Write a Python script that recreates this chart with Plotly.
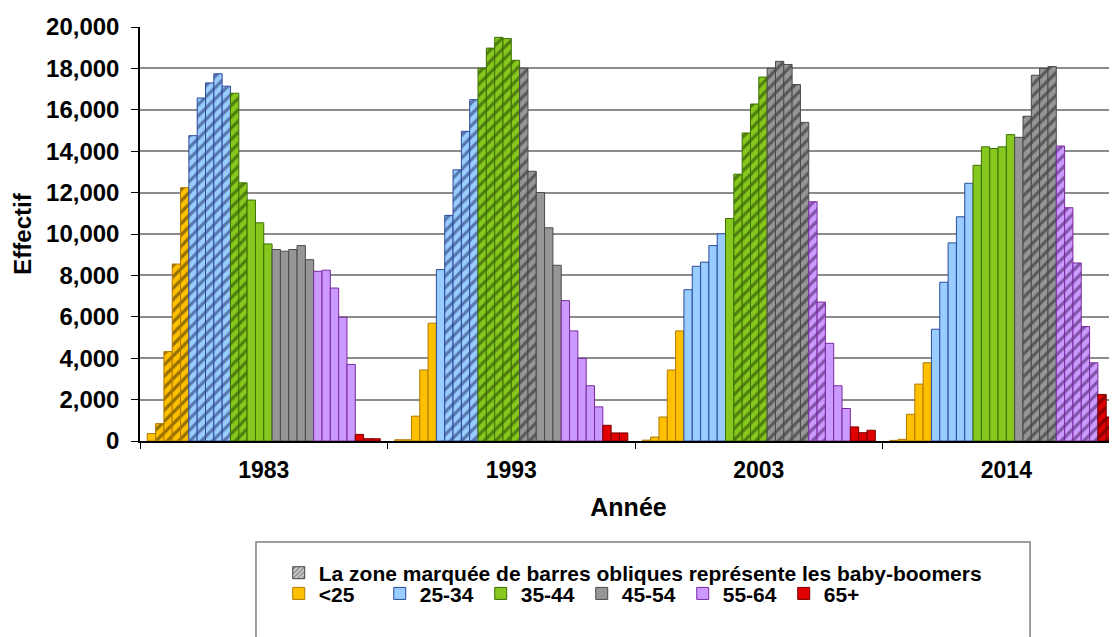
import plotly.graph_objects as go

# survey years (one cluster of bars each)
years = ['1983', '1993', '2003', '2014']

# two-year age bins, 15-16 ... 69-70, grouped in the legend classes
age_groups = ['<25', '25-34', '35-44', '45-54', '55-64', '65+']
bins_per_group = [5, 5, 5, 5, 5, 3]

# headcount per age bin, one list per year
v1983 = [360, 840, 4320, 8550, 12240, 14750, 16570, 17300, 17740, 17140,
         16800, 12470, 11640, 10540, 9520, 9250, 9170, 9250, 9440, 8760,
         8200, 8250, 7390, 5980, 3700, 320, 110, 110]
v1993 = [60, 60, 1200, 3430, 5690, 8280, 10900, 13100, 14960, 16490,
         18010, 18980, 19500, 19440, 18390, 18010, 13030, 12000, 10300, 8490,
         6780, 5320, 3990, 2670, 1650, 760, 390, 390]
v2003 = [40, 190, 1160, 3430, 5320, 7310, 8440, 8640, 9440, 10010,
         10750, 12890, 14880, 16280, 17580, 18010, 18340, 18190, 17220, 15390,
         11560, 6710, 4720, 2670, 1570, 680, 400, 520]
v2014 = [30, 80, 1290, 2750, 3780, 5400, 7670, 9570, 10830, 12450,
         13320, 14210, 14130, 14210, 14800, 14670, 15690, 17670, 18000, 18090,
         14250, 11270, 8600, 5530, 3780, 2250, 1160, 1250]
values = [v1983, v1993, v2003, v2014]

# first / last bin that holds baby-boomers, per year (hatched bars)
boomer_first = [1, 6, 11, 16]
boomer_last = [11, 16, 21, 27]

group_colors = ['#FFC000', '#99CCFF', '#86C81E', '#969696', '#CC99FF', '#E00000']
edge_colors = ['#B07800', '#2A4A9A', '#3A7000', '#4A4A4A', '#7A2AA0', '#7A0000']
hatch_colors = ['#2E2200', '#16245A', '#1C3600', '#1E1E1E', '#3A1052', '#3A0000']

bin_group = []
for g, n in enumerate(bins_per_group):
    bin_group += [g] * n

fig = go.Figure()

for i, g in enumerate(bin_group):
    shapes = ['/' if boomer_first[k] <= i <= boomer_last[k] else '' for k in range(len(years))]
    fig.add_trace(go.Bar(
        x=years, y=[v[i] for v in values],
        offsetgroup=str(i), showlegend=False,
        marker=dict(color=group_colors[g],
                    line=dict(color=edge_colors[g], width=1),
                    pattern=dict(shape=shapes, fgcolor=hatch_colors[g],
                                 size=8, solidity=0.4)),
        hoverinfo='y'))

# legend entries
fig.add_trace(go.Bar(
    x=[years[0]], y=[None], offsetgroup='0', legend='legend',
    name='La zone marquée de barres obliques représente les baby-boomers',
    marker=dict(color='#D0D0D0', line=dict(color='#404040', width=1),
                pattern=dict(shape='/', fgcolor='#303030', size=4, solidity=0.4))))
for g, name in enumerate(age_groups):
    fig.add_trace(go.Bar(
        x=[years[0]], y=[None], offsetgroup='0', legend='legend2', name=name,
        marker=dict(color=group_colors[g], line=dict(color=edge_colors[g], width=1))))

font_family = 'Liberation Sans, Arial, sans-serif'

fig.update_layout(
    width=1109, height=629,
    margin=dict(l=132, r=0, t=19, b=196),
    paper_bgcolor='white', plot_bgcolor='white',
    barmode='group', bargap=0.0586, bargroupgap=0,
    font=dict(family=font_family, color='black'),
    legend=dict(orientation='h', x=0.142, xanchor='left', y=-0.319, yanchor='middle',
                font=dict(size=21, weight='bold'), bgcolor='rgba(0,0,0,0)'),
    legend2=dict(orientation='h', x=0.142, xanchor='left', y=-0.369, yanchor='middle',
                 entrywidth=56, font=dict(size=21, weight='bold'), bgcolor='rgba(0,0,0,0)'),
    shapes=[dict(type='rect', xref='paper', yref='paper',
                 x0=0.1187, x1=0.911, y0=-0.244, y1=-0.49,
                 line=dict(color='#7F7F7F', width=1.5), fillcolor='rgba(0,0,0,0)')],
)

fig.update_xaxes(
    type='category', range=[-0.5, 3.447],
    showline=True, linecolor='black', linewidth=1.5,
    ticks='outside', tickson='boundaries', ticklen=6, tickcolor='black',
    ticklabelstandoff=8,
    tickfont=dict(size=23, weight='bold'),
    title=dict(text='Année', font=dict(size=25, weight='bold'), standoff=16),
    automargin=False, showgrid=False)

fig.update_yaxes(
    range=[0, 20000], dtick=2000, tickformat=',',
    showline=True, linecolor='black', linewidth=1.5,
    ticks='outside', ticklen=7, tickcolor='black', ticklabelstandoff=7,
    tickfont=dict(size=24, weight='bold'),
    showgrid=True, gridcolor='#8C8C8C', gridwidth=1.5, zeroline=False,
    title=dict(text='Effectif', font=dict(size=24, weight='bold'), standoff=8),
    automargin=False)

fig.write_html('out.html')
